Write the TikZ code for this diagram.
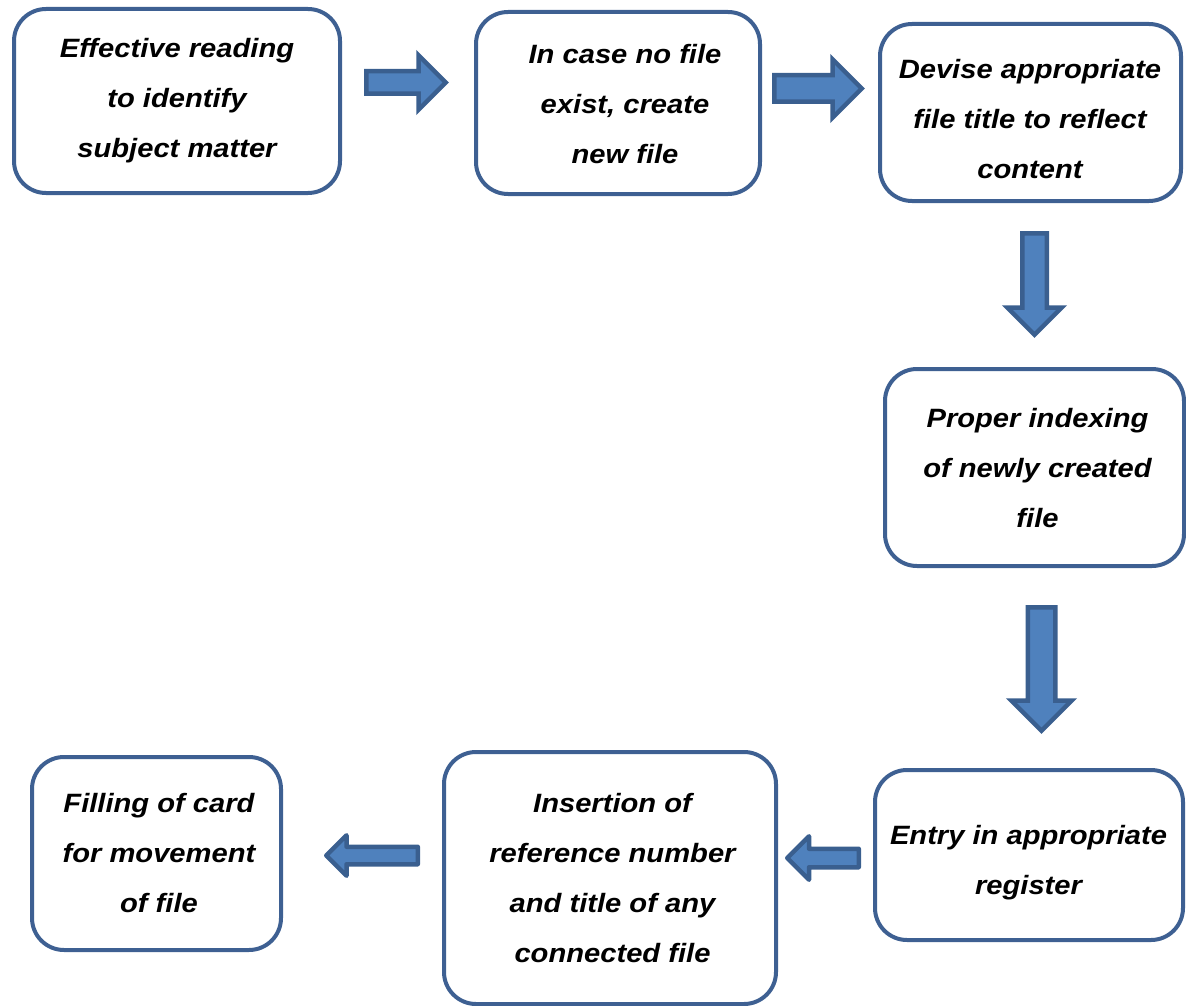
\documentclass[tikz,border=0pt]{standalone}
\usepackage{fontspec}
\newfontfamily\boxfont{Liberation Sans}[FakeStretch=1.1]

\definecolor{boxline}{RGB}{62,96,146}
\definecolor{arrowfill}{HTML}{4F81BD}
\definecolor{arrowline}{RGB}{58,95,143}

\tikzset{
  stepbox/.style={draw=boxline, line width=4pt, rounded corners=32pt,
    fill=white, inner sep=0pt},
  steptext/.style={align=center, text=black, inner sep=0pt,
    font=\boxfont\bfseries\itshape\fontsize{26.5}{50}\selectfont},
  arrowbody/.style={draw=arrowline, fill=arrowfill, line width=4.5pt},
  % block arrow pointing along +x, centred on the pic origin:
  % total length / head width / shaft width
  pics/blockarrow/.style args={#1/#2/#3}{code={
    \path[arrowbody]
      (-#1/2,-#3/2) -- (#1/2-#2/2,-#3/2) -- (#1/2-#2/2,-#2/2)
      -- (#1/2,0) -- (#1/2-#2/2,#2/2) -- (#1/2-#2/2,#3/2)
      -- (-#1/2,#3/2) -- cycle;
  }}
}

\begin{document}
\begin{tikzpicture}[x=1pt, y=-1pt]
  \useasboundingbox (0,0) rectangle (1186,1006);

  % process boxes
  \node[stepbox, minimum width=326pt, minimum height=184pt] (b1) at (177,101) {};
  \node[stepbox, minimum width=284pt, minimum height=182pt] (b2) at (618,103) {};
  \node[stepbox, minimum width=301pt, minimum height=177pt] (b3) at (1030.5,112.5) {};
  \node[stepbox, minimum width=299pt, minimum height=197pt] (b4) at (1034.5,467.5) {};
  \node[stepbox, minimum width=308pt, minimum height=170pt] (b5) at (1029,855) {};
  \node[stepbox, minimum width=332pt, minimum height=252pt] (b6) at (610,878) {};
  \node[stepbox, minimum width=249pt, minimum height=193pt] (b7) at (156.5,853.5) {};

  % box captions
  \node[steptext] (t1) at (177,101) {Effective reading\\to identify\\subject matter};
  \node[steptext] (t2) at (625,104) {In case no file\\exist, create\\new file};
  \node[steptext] (t3) at (1030,119) {Devise appropriate\\file title to reflect\\content};
  \node[steptext] (t4) at (1037.5,468) {Proper indexing\\of newly created\\file};
  \node[steptext] (t5) at (1028.5,863) {Entry in appropriate\\register};
  \node[steptext] (t6) at (612.5,878) {Insertion of\\reference number\\and title of any\\connected file};
  \node[steptext] (t7) at (159,853) {Filling of card\\for movement\\of file};

  % block arrows between the steps
  \pic at (406,82.5) {blockarrow={79.5/54.5/22.5}};
  \pic at (818,88.5) {blockarrow={87.5/58.5/26.5}};
  \pic[rotate=-90] at (1034.5,284) {blockarrow={101.5/54.5/24.5}};
  \pic[rotate=-90] at (1041.5,669) {blockarrow={123.5/60.5/27.5}};
  \pic[rotate=180, line join=round] at (823,858) {blockarrow={71.5/43.5/18.5}};
  \pic[rotate=180, line join=round] at (372,855.5) {blockarrow={91.5/40.5/17.5}};
\end{tikzpicture}
\end{document}
